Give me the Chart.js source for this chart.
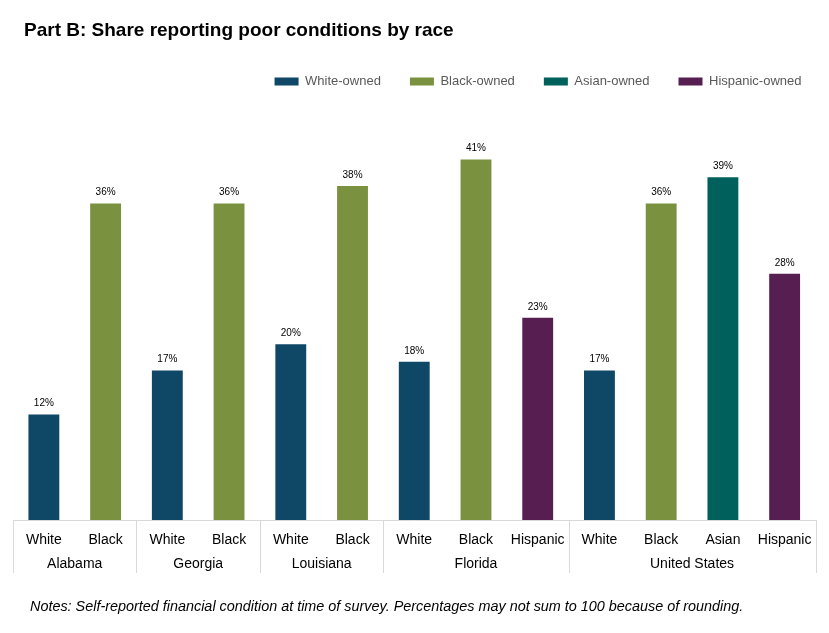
<!DOCTYPE html>
<html>
<head>
<meta charset="utf-8">
<script src="https://cdn.jsdelivr.net/npm/chart.js@4.4.1/dist/chart.umd.min.js"></script>
<style>
  html, body { margin: 0; padding: 0; background: #fff; }
  #wrap { position: relative; width: 829px; height: 633px; overflow: hidden; }
  #chart { position: absolute; left: 0; top: 0; }
  #title { position: absolute; left: 24px; top: 18px; font: bold 19px "Liberation Sans", Arial, sans-serif; color: #000; line-height: 24px; white-space: nowrap; }
  #notes { position: absolute; left: 30px; top: 597px; font: italic 14.4px "Liberation Sans", Arial, sans-serif; color: #000; line-height: 18px; white-space: nowrap; }
</style>
</head>
<body>
<div id="wrap">
  <canvas id="chart" width="829" height="633"></canvas>
  <div id="title">Part B: Share reporting poor conditions by race</div>
  <div id="notes">Notes: Self-reported financial condition at time of survey. Percentages may not sum to 100 because of rounding.</div>
</div>
<script>
// ---- Data ----
const categories = ['White', 'Black', 'White', 'Black', 'White', 'Black', 'White', 'Black', 'Hispanic', 'White', 'Black', 'Asian', 'Hispanic'];
const groups = ['Alabama', 'Georgia', 'Louisiana', 'Florida', 'United States'];
const groupSizes = [2, 2, 2, 3, 4];
const whiteOwned    = [12, null, 17, null, 20, null, 18, null, null, 17, null, null, null];
const blackOwned    = [null, 36, null, 36, null, 38, null, 41, null, null, 36, null, null];
const asianOwned    = [null, null, null, null, null, null, null, null, null, null, null, 39, null];
const hispanicOwned = [null, null, null, null, null, null, null, null, 23, null, null, null, 28];
const seriesNames = ['White-owned', 'Black-owned', 'Asian-owned', 'Hispanic-owned'];

const FONT = '"Liberation Sans", Arial, sans-serif';

const groupPlugin = {
  id: 'groupLabels',
  afterDraw(chart) {
    const x = chart.scales.x;
    const ctx = chart.ctx;
    const area = chart.chartArea;
    const half = (x.getPixelForValue(1) - x.getPixelForValue(0)) / 2;
    ctx.save();
    ctx.strokeStyle = '#d9d9d9';
    ctx.lineWidth = 1;
    ctx.fillStyle = '#000';
    ctx.font = '14px ' + FONT;
    ctx.textAlign = 'center';
    ctx.textBaseline = 'middle';
    let idx = 0;
    const bounds = [];
    groupSizes.forEach((n, g) => {
      const l = x.getPixelForValue(idx) - half;
      const r = x.getPixelForValue(idx + n - 1) + half;
      bounds.push(l);
      if (g === groupSizes.length - 1) bounds.push(r);
      ctx.fillText(groups[g], (l + r) / 2, 564);
      idx += n;
    });
    bounds.forEach(b => {
      const px = Math.round(b) + 0.5;
      ctx.beginPath();
      ctx.moveTo(px, area.bottom);
      ctx.lineTo(px, 573);
      ctx.stroke();
    });
    ctx.restore();
  }
};

const valueLabels = {
  id: 'valueLabels',
  afterDatasetsDraw(chart) {
    const ctx = chart.ctx;
    ctx.save();
    ctx.fillStyle = '#000';
    ctx.font = '10px ' + FONT;
    ctx.textAlign = 'center';
    ctx.textBaseline = 'middle';
    chart.data.datasets.forEach((ds, i) => {
      const meta = chart.getDatasetMeta(i);
      meta.data.forEach((el, j) => {
        const v = ds.data[j];
        if (v === null || v === undefined) return;
        ctx.fillText(v + '%', el.x, el.y - 11);
      });
    });
    ctx.restore();
  }
};

const legendShift = {
  id: 'legendShift',
  afterLayout(chart) {
    if (chart.legend) { chart.legend.right += 15; }
  }
};

const colors = ['#0f4766', '#7a913f', '#00605c', '#571f51'];
const seriesData = [whiteOwned, blackOwned, asianOwned, hispanicOwned];

new Chart(document.getElementById('chart'), {
  type: 'bar',
  data: {
    labels: categories,
    datasets: seriesNames.map((name, i) => ({
      label: name,
      data: seriesData[i],
      backgroundColor: colors[i],
      borderWidth: 0,
      grouped: false,
      barPercentage: 0.5,
      categoryPercentage: 1.0
    }))
  },
  options: {
    responsive: false,
    animation: false,
    devicePixelRatio: 1,
    layout: { padding: { left: 13, right: 13.5, top: 46, bottom: 0 } },
    plugins: {
      title: { display: false },
      tooltip: { enabled: false },
      legend: {
        display: true,
        position: 'top',
        align: 'end',
        labels: {
          boxWidth: 24,
          boxHeight: 8,
          padding: 29,
          color: '#595959',
          font: { family: FONT, size: 13 }
        }
      }
    },
    scales: {
      x: {
        grid: { display: false },
        border: { display: true, color: '#d9d9d9', width: 1 },
        ticks: { color: '#000', font: { family: FONT, size: 14 }, padding: 4, maxRotation: 0, autoSkip: false },
        afterFit(scale) { scale.height = 113; }
      },
      y: {
        display: false,
        min: 0,
        max: 48
      }
    }
  },
  plugins: [groupPlugin, valueLabels, legendShift]
});
</script>
</body>
</html>
